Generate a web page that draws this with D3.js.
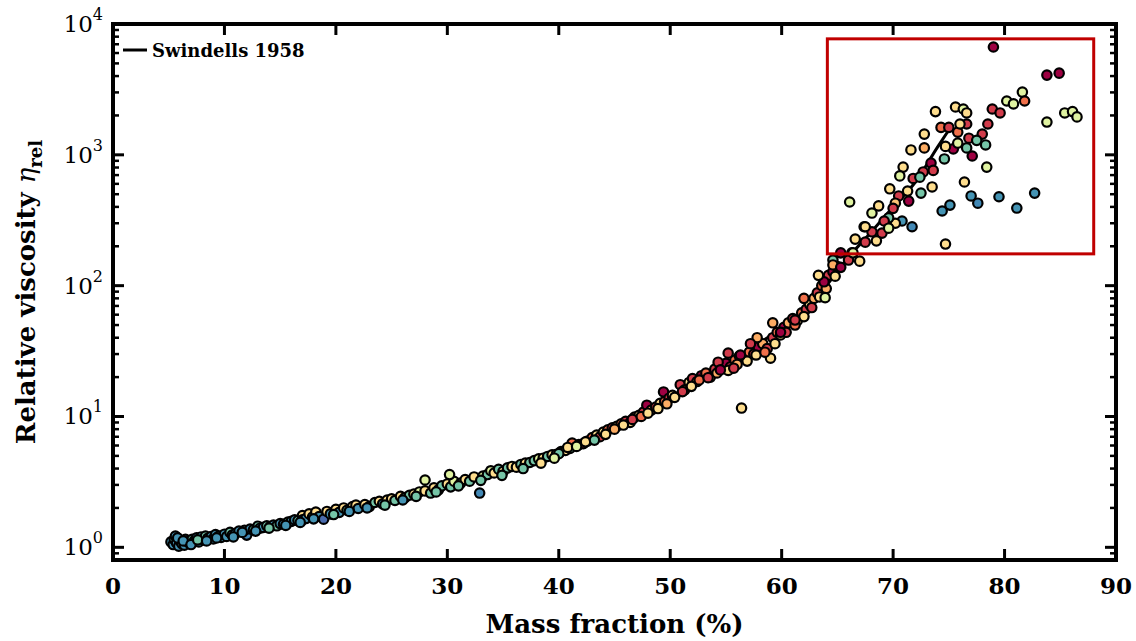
<!DOCTYPE html>
<html>
<head>
<meta charset="utf-8">
<script src="https://cdn.jsdelivr.net/npm/d3@7"></script>
<style>
  body { margin: 0; background: #fff; }
  text { font-family: "DejaVu Serif", serif; font-weight: bold; fill: #000; }
</style>
</head>
<body>
<div id="container"></div>
<script>
// measured points: mass fraction (%), relative viscosity, colour value (0 = dark red ... 1 = blue)
var massFraction = [
  5.2, 5.4, 5.5, 5.6, 5.7, 5.9, 6.0, 6.2, 6.4, 6.5,
  6.7, 6.9, 7.1, 7.3, 7.5, 7.7, 7.9, 8.1, 8.3, 8.5,
  8.8, 9.0, 9.2, 9.5, 9.7, 10.0, 10.2, 10.5, 10.7, 11.0,
  11.3, 12.0, 11.8, 12.3, 12.6, 13.0, 13.2, 13.5, 13.8, 14.1,
  14.4, 14.7, 15.0, 15.3, 15.7, 16.0, 16.3, 16.6, 17.0, 17.0,
  17.3, 17.6, 17.9, 18.2, 18.5, 18.9, 19.2, 19.5, 20.0, 20.3,
  20.7, 21.0, 21.5, 21.8, 22.0, 22.6, 23.0, 23.5, 23.9, 24.2,
  24.6, 25.0, 25.3, 25.8, 26.2, 26.6, 27.0, 27.5, 28.0, 28.0,
  28.5, 28.8, 29.2, 29.5, 30.0, 30.3, 30.6, 30.2, 31.2, 31.6,
  32.0, 32.4, 32.9, 33.2, 33.6, 33.9, 34.2, 34.6, 35.0, 35.4,
  35.8, 36.2, 36.6, 37.0, 37.4, 37.8, 38.2, 38.6, 39.0, 39.4,
  39.8, 40.2, 40.6, 41.0, 41.2, 41.8, 42.2, 42.6, 43.0, 43.4,
  43.7, 44.0, 44.4, 44.8, 45.2, 45.6, 46.0, 46.4, 46.8, 47.2,
  47.6, 47.9, 48.3, 48.7, 49.1, 49.5, 49.4, 49.9, 50.2, 50.9,
  51.3, 51.7, 52.0, 52.4, 52.8, 53.2, 53.6, 54.0, 54.5, 55.0,
  55.4, 55.8, 56.2, 56.4, 56.7, 57.1, 57.5, 57.9, 58.3, 58.7,
  59.0, 59.2, 59.6, 59.9, 60.2, 60.6, 61.0, 61.4, 61.8, 62.2,
  62.5, 62.9, 63.2, 63.6, 63.9, 64.2, 64.6, 65.0,
  40.0, 40.8, 41.6, 42.4, 43.2, 44.2, 45.0, 45.8, 46.6, 47.4,
  48.0, 48.9, 49.7, 50.4, 51.1, 51.9, 52.6, 53.4, 54.2, 55.2,
  56.0, 56.9, 57.7, 58.5, 59.4, 60.4, 61.2, 62.0, 62.7, 63.4,
  64.0, 64.8,
  63.8, 59.9, 61.2, 62.0, 63.3, 63.9, 59.2, 57.8, 57.2, 56.3,
  55.2, 54.3, 54.5, 55.7,
  5.8, 6.3, 7.0, 7.6, 8.4, 9.3, 10.8, 11.6, 12.8, 14.0,
  15.5, 16.8, 18.0, 19.8, 21.2, 22.8, 24.4, 26.0, 27.2, 29.0,
  31.0, 33.0, 34.9, 36.8, 38.4, 39.6,
  79.0, 83.8, 84.9, 81.6, 81.8, 80.2, 80.8, 78.9, 79.6, 78.5,
  83.8, 85.4, 86.1, 86.5, 73.8, 75.6, 76.3, 76.6, 74.3, 75.0,
  75.8, 76.6, 76.0, 72.8, 76.8, 78.0, 77.5, 78.3, 76.6, 75.4,
  74.7, 75.8, 77.1, 71.6, 72.8, 74.6, 73.4, 70.9, 70.6, 71.8,
  72.7, 73.6, 72.4, 78.4, 76.4, 73.5, 69.7, 71.3, 72.5, 70.5,
  71.4, 77.0, 77.6, 79.5, 81.1, 82.7, 74.4, 75.1, 66.1, 68.7,
  68.1, 70.2, 70.0, 70.8, 71.7, 70.2, 69.6, 69.2, 67.4, 68.1,
  69.0, 69.6, 66.6, 67.5, 68.5, 74.7, 65.3, 66.3, 64.6, 66.0,
  67.0, 64.6, 65.3, 66.4, 67.5
];
var relViscosity = [
  1.10, 1.05, 1.15, 1.22, 1.08, 1.02, 1.12, 1.06, 1.04, 1.15,
  1.10, 1.07, 1.15, 1.12, 1.18, 1.10, 1.20, 1.14, 1.22, 1.17,
  1.21, 1.16, 1.25, 1.22, 1.19, 1.26, 1.21, 1.30, 1.24, 1.28,
  1.33, 1.24, 1.35, 1.38, 1.36, 1.45, 1.40, 1.42, 1.46, 1.44,
  1.48, 1.46, 1.52, 1.50, 1.56, 1.58, 1.62, 1.60, 1.75, 1.62,
  1.66, 1.80, 1.70, 1.86, 1.72, 1.64, 1.88, 1.80, 1.95, 1.85,
  2.00, 1.92, 2.05, 2.10, 1.98, 2.12, 2.05, 2.20, 2.25, 2.15,
  2.30, 2.35, 2.28, 2.45, 2.40, 2.50, 2.55, 2.65, 3.27, 2.70,
  2.60, 2.85, 2.75, 2.95, 3.05, 2.90, 3.20, 3.60, 3.10, 3.30,
  3.20, 3.45, 2.60, 3.50, 3.60, 3.85, 3.70, 3.95, 3.80, 4.05,
  4.15, 4.10, 4.30, 4.40, 4.45, 4.60, 4.75, 4.80, 4.95, 5.10,
  5.15, 5.40, 5.50, 5.70, 6.26, 6.10, 6.20, 6.50, 6.90, 7.20,
  7.00, 7.60, 7.90, 8.20, 8.40, 8.80, 9.20, 9.00, 9.90, 10.2,
  10.8, 12.2, 11.2, 11.8, 12.6, 13.0, 15.4, 13.8, 14.5, 17.5,
  16.0, 18.2, 19.5, 18.5, 20.5, 21.5, 20.0, 23.0, 23.4, 25.5,
  24.0, 27.0, 29.0, 11.6, 28.0, 31.0, 30.0, 34.0, 36.0, 33.0,
  27.9, 40.0, 44.0, 42.0, 48.0, 52.0, 56.0, 54.0, 62.0, 66.0,
  72.0, 80.0, 88.0, 100, 112, 120, 128, 140,
  5.2, 5.8, 5.9, 6.4, 6.6, 7.3, 8.0, 8.6, 9.5, 10.0,
  10.6, 11.5, 12.5, 14.0, 15.5, 17.0, 19.0, 19.8, 21.5, 22.5,
  25.0, 26.5, 29.5, 31.0, 36.0, 44.0, 50.0, 58.0, 68.0, 82.0,
  95.0, 118,
  107, 44, 54.6, 80, 120, 81, 52, 40, 36, 29.5,
  30.5, 26, 22.7, 23.4,
  1.18, 1.12, 1.05, 1.14, 1.12, 1.18, 1.20, 1.30, 1.33, 1.40,
  1.47, 1.55, 1.65, 1.78, 1.88, 2.00, 2.10, 2.30, 2.45, 2.65,
  2.95, 3.25, 3.55, 4.00, 4.40, 4.80,
  6670, 4070, 4210, 3020, 2580, 2580, 2450, 2240, 2090, 1720,
  1780, 2090, 2140, 1950, 2140, 2320, 2240, 2090, 1620, 1620,
  1490, 1720, 1720, 1440, 1340, 1440, 1290, 1190, 1130, 1110,
  1160, 1230, 980, 1090, 1130, 930, 865, 806, 690, 660,
  740, 760, 675, 806, 620, 568, 550, 528, 510, 485,
  443, 485, 427, 478, 392, 510, 372, 413, 436, 407,
  359, 427, 390, 312, 282, 300, 330, 312, 282, 258,
  252, 275, 227, 215, 220, 208, 178, 178, 157, 157,
  154, 144, 138, 178, 282
];
var shade = [
  0.88, 0.88, 0.78, 0.88, 0.88, 0.88, 0.88, 0.78, 0.88, 0.88,
  0.88, 0.88, 0.78, 0.88, 0.88, 0.88, 0.88, 0.88, 0.78, 0.88,
  0.88, 0.88, 0.88, 0.78, 0.88, 0.88, 0.88, 0.78, 0.88, 0.88,
  0.88, 0.90, 0.78, 0.88, 0.78, 0.78, 0.88, 0.88, 0.78, 0.88,
  0.88, 0.78, 0.88, 0.88, 0.78, 0.88, 0.88, 0.78, 0.40, 0.88,
  0.88, 0.40, 0.78, 0.40, 0.88, 0.95, 0.40, 0.88, 0.40, 0.88,
  0.40, 0.78, 0.40, 0.40, 0.88, 0.40, 0.78, 0.78, 0.40, 0.88,
  0.40, 0.40, 0.78, 0.40, 0.78, 0.78, 0.40, 0.60, 0.60, 0.40,
  0.78, 0.40, 0.78, 0.78, 0.40, 0.78, 0.60, 0.60, 0.78, 0.40,
  0.78, 0.40, 0.90, 0.60, 0.78, 0.60, 0.40, 0.78, 0.40, 0.78,
  0.40, 0.40, 0.78, 0.40, 0.78, 0.78, 0.60, 0.40, 0.78, 0.40,
  0.40, 0.60, 0.40, 0.78, 0.20, 0.40, 0.10, 0.40, 0.20, 0.40,
  0.10, 0.40, 0.20, 0.10, 0.40, 0.20, 0.10, 0.40, 0.20, 0.40,
  0.10, 0.00, 0.30, 0.10, 0.40, 0.20, 0.00, 0.10, 0.40, 0.10,
  0.20, 0.40, 0.10, 0.30, 0.00, 0.20, 0.40, 0.10, 0.30, 0.00,
  0.10, 0.20, 0.40, 0.40, 0.10, 0.20, 0.10, 0.00, 0.30, 0.10,
  0.40, 0.10, 0.20, 0.40, 0.00, 0.30, 0.10, 0.40, 0.20, 0.10,
  0.40, 0.30, 0.10, 0.20, 0.40, 0.10, 0.00, 0.30,
  0.78, 0.40, 0.60, 0.40, 0.78, 0.40, 0.30, 0.40, 0.10, 0.20,
  0.40, 0.40, 0.30, 0.40, 0.10, 0.40, 0.20, 0.10, 0.30, 0.40,
  0.30, 0.40, 0.40, 0.20, 0.40, 0.10, 0.20, 0.40, 0.10, 0.40,
  0.30, 0.40,
  0.00, 0.00, 0.10, 0.20, 0.40, 0.60, 0.30, 0.30, 0.10, 0.00,
  0.10, 0.10, 0.00, 0.10,
  0.88, 0.88, 0.88, 0.78, 0.88, 0.88, 0.88, 0.88, 0.88, 0.78,
  0.88, 0.88, 0.88, 0.78, 0.88, 0.88, 0.78, 0.88, 0.78, 0.78,
  0.78, 0.78, 0.78, 0.78, 0.40, 0.60,
  0.00, 0.00, 0.00, 0.60, 0.20, 0.60, 0.60, 0.10, 0.10, 0.10,
  0.60, 0.60, 0.60, 0.60, 0.40, 0.40, 0.60, 0.40, 0.20, 0.10,
  0.20, 0.10, 0.40, 0.40, 0.10, 0.10, 0.78, 0.78, 0.78, 0.00,
  0.40, 0.60, 0.00, 0.40, 0.30, 0.78, 0.00, 0.40, 0.60, 0.10,
  0.10, 0.10, 0.78, 0.60, 0.40, 0.40, 0.40, 0.40, 0.78, 0.10,
  0.00, 0.88, 0.90, 0.88, 0.88, 0.88, 0.88, 0.88, 0.60, 0.40,
  0.60, 0.35, 0.10, 0.88, 0.90, 0.40, 0.78, 0.10, 0.40, 0.10,
  0.10, 0.60, 0.40, 0.10, 0.40, 0.40, 0.00, 0.30, 0.78, 0.10,
  0.40, 0.30, 0.00, 0.60, 0.40
];

// Swindells 1958 reference curve
var swX = [5, 10, 15, 20, 25, 30, 35, 40, 45, 50, 55, 60, 62, 64, 66, 68, 70, 72, 74, 75];
var swY = [1.1, 1.28, 1.5, 1.9, 2.35, 3.05, 4.0, 5.2, 7.8, 14, 25, 48, 66, 100, 165, 255, 400, 620, 1150, 1550];

var xTicks = [0, 10, 20, 30, 40, 50, 60, 70, 80, 90];
var yMajor = [1, 10, 100, 1000, 10000];
var yExp = ["0", "1", "2", "3", "4"];

// highlighted region [x0, x1], [y0, y1]
var boxX = [64.1, 88.0];
var boxY = [175, 7700];

var width = 1136, height = 641;
var margin = {left: 113, right: 20, top: 24, bottom: 81};

var svg = d3.select('#container').append('svg')
  .attr('width', width)
  .attr('height', height);

var x = d3.scaleLinear().domain([0, 90]).range([margin.left, width - margin.right]);
var y = d3.scaleLog().domain([0.8, 10000]).range([height - margin.bottom, margin.top]);
var color = d3.scaleSequential(d3.interpolateSpectral).domain([0, 1]);

var x0 = x.range()[0], x1 = x.range()[1], y0 = y.range()[0], y1 = y.range()[1];

var pts = massFraction.map(function(d, i) { return {x: d, y: relViscosity[i], c: shade[i]}; });

// reference line under the points
var line = d3.line()
  .x(function(d, i) { return x(swX[i]); })
  .y(function(d, i) { return y(swY[i]); })
  .curve(d3.curveMonotoneX);

svg.append('path')
  .datum(swX)
  .attr('d', line)
  .attr('fill', 'none')
  .attr('stroke', '#000')
  .attr('stroke-width', 3);

svg.append('g').selectAll('circle')
  .data(pts)
  .enter().append('circle')
  .attr('cx', function(d) { return x(d.x); })
  .attr('cy', function(d) { return y(d.y); })
  .attr('r', 4.7)
  .attr('fill', function(d) { return color(d.c); })
  .attr('stroke', '#000')
  .attr('stroke-width', 2.2);

// red box
svg.append('rect')
  .attr('x', x(boxX[0]))
  .attr('y', y(boxY[1]))
  .attr('width', x(boxX[1]) - x(boxX[0]))
  .attr('height', y(boxY[0]) - y(boxY[1]))
  .attr('fill', 'none')
  .attr('stroke', '#c00000')
  .attr('stroke-width', 3);

// ticks, all pointing inwards
var allY = y.ticks().filter(function(t) { return t >= 0.8 && t <= 10000; });
function isMajor(t) { return Math.abs(Math.log10(t) - Math.round(Math.log10(t))) < 1e-9; }

var tickG = svg.append('g').attr('stroke', '#000');
tickG.selectAll('.yl').data(allY).enter().append('line')
  .attr('x1', x0).attr('x2', function(d) { return x0 + (isMajor(d) ? 11 : 6); })
  .attr('y1', function(d) { return y(d); }).attr('y2', function(d) { return y(d); })
  .attr('stroke-width', function(d) { return isMajor(d) ? 3 : 2.5; });
tickG.selectAll('.yr').data(allY).enter().append('line')
  .attr('x1', x1).attr('x2', function(d) { return x1 - (isMajor(d) ? 11 : 6); })
  .attr('y1', function(d) { return y(d); }).attr('y2', function(d) { return y(d); })
  .attr('stroke-width', function(d) { return isMajor(d) ? 3 : 2.5; });
tickG.selectAll('.xb').data(xTicks).enter().append('line')
  .attr('x1', function(d) { return x(d); }).attr('x2', function(d) { return x(d); })
  .attr('y1', y0).attr('y2', y0 - 11)
  .attr('stroke-width', 3);
tickG.selectAll('.xt').data(xTicks).enter().append('line')
  .attr('x1', function(d) { return x(d); }).attr('x2', function(d) { return x(d); })
  .attr('y1', y1).attr('y2', y1 + 11)
  .attr('stroke-width', 3);

// frame
svg.append('rect')
  .attr('x', x0).attr('y', y1)
  .attr('width', x1 - x0).attr('height', y0 - y1)
  .attr('fill', 'none')
  .attr('stroke', '#000')
  .attr('stroke-width', 4);

// tick labels
svg.selectAll('.xlab').data(xTicks).enter().append('text')
  .attr('x', function(d) { return x(d); })
  .attr('y', 594)
  .attr('text-anchor', 'middle')
  .style('font-size', '23px')
  .text(function(d) { return d; });

var ylab = svg.selectAll('.ylab').data(yMajor).enter().append('text')
  .attr('x', 103)
  .attr('y', function(d) { return y(d) + 8; })
  .attr('text-anchor', 'end')
  .style('font-size', '23px');
ylab.append('tspan').text('10').style('font-weight', 'normal');
ylab.append('tspan').attr('dy', -12).style('font-size', '16px').style('font-weight', 'normal')
  .text(function(d, i) { return yExp[i]; });

// axis titles
svg.append('text')
  .attr('x', (x0 + x1) / 2)
  .attr('y', 633)
  .attr('text-anchor', 'middle')
  .style('font-size', '26px')
  .text('Mass fraction (%)');

var yt = svg.append('text')
  .attr('transform', 'translate(35,' + ((y0 + y1) / 2) + ') rotate(-90)')
  .attr('text-anchor', 'middle')
  .style('font-size', '26px');
yt.append('tspan').text('Relative viscosity ');
yt.append('tspan').style('font-style', 'italic').style('font-weight', 'normal').text('η');
yt.append('tspan').attr('dy', 7).style('font-size', '18px').text('rel');

// legend
svg.append('line')
  .attr('x1', 123).attr('x2', 147)
  .attr('y1', 50).attr('y2', 50)
  .attr('stroke', '#000').attr('stroke-width', 3);
svg.append('text')
  .attr('x', 152).attr('y', 57)
  .style('font-size', '18px')
  .text('Swindells 1958');
</script>
</body>
</html>
